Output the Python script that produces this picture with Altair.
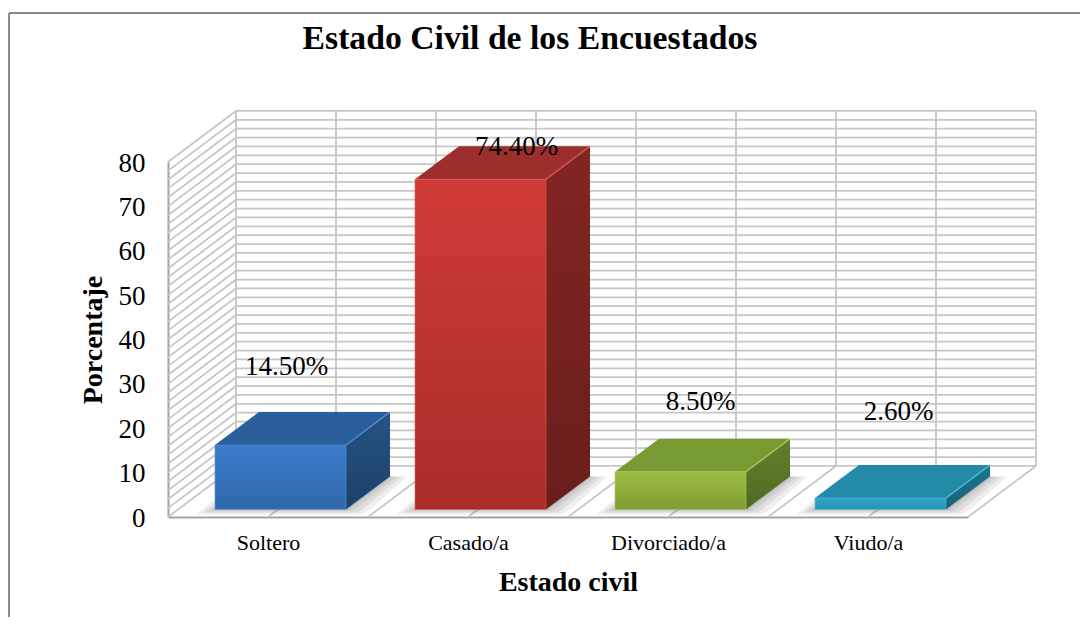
import altair as alt
import pandas as pd

categories = ["Soltero", "Casado/a", "Divorciado/a", "Viudo/a"]
values = [14.5, 74.4, 8.5, 2.6]
labels = ["14.50%", "74.40%", "8.50%", "2.60%"]
label_dx = [6, 36, 20, 18]
label_dy = [-78, -32, -70, -86]
front_top = ["#3c7dcb", "#d03b37", "#9cbd40", "#31a8cc"]
front_bottom = ["#2e68ab", "#a92d2a", "#7f9d33", "#2691b2"]
top_colors = ["#2b5f9b", "#9c2e2b", "#789a32", "#238aa8"]
side_top = ["#255485", "#822624", "#637f2a", "#1c7690"]
side_bottom = ["#1d4169", "#6a1e1c", "#506b21", "#186278"]
edge_colors = ["#5b93d6", "#dd5b56", "#b0cc60", "#55bedb"]

SERIF = "Liberation Serif"
GRID = "#c6c6c6"
AXIS = "#a3a3a3"
FRAME = "#8a8a8a"

WALL_DX, WALL_DY = 0.34, 11.5      # depth of the floor
BAR_DX, BAR_DY = 0.22, 7.44        # depth of a bar
BAR_LEFT, BAR_WIDTH = 0.235, 0.655
BASE = 1.7

xs = alt.Scale(domain=[0, 4], nice=False, zero=False)
ys = alt.Scale(domain=[0, 80], nice=False, zero=False)

label_expr = "[" + ",".join(f"'{c}'" for c in categories) + "][datum.value - 0.5]"
x_axis = alt.Axis(
    values=[0.5, 1.5, 2.5, 3.5], labelExpr=label_expr, title="Estado civil",
    grid=False, ticks=False, domainColor=AXIS, domainWidth=2,
    labelFont=SERIF, labelFontSize=22, labelColor="#000", labelPadding=15,
    titleFont=SERIF, titleFontSize=28, titleFontWeight="bold", titleColor="#000", titlePadding=15,
)
y_axis = alt.Axis(
    values=list(range(0, 81, 10)), title="Porcentaje",
    grid=False, ticks=False, domainColor=AXIS, domainWidth=2,
    labelFont=SERIF, labelFontSize=27, labelColor="#000", labelPadding=23, labelOffset=1,
    titleFont=SERIF, titleFontSize=28, titleFontWeight="bold", titleColor="#000", titlePadding=11,
)


def X(field="x"):
    return alt.X(f"{field}:Q", scale=xs, axis=x_axis)


def Y(field="y"):
    return alt.Y(f"{field}:Q", scale=ys, axis=y_axis)


def rules(rows, color=GRID, width=1.8):
    return alt.Chart(pd.DataFrame(rows)).mark_rule(color=color, strokeWidth=width).encode(
        x=X(), x2="x2:Q", y=Y(), y2="y2:Q"
    )


def parallelogram(x0, x1, y0, dx, dy, **mark):
    rows = [
        {"x": x0, "x2": x1, "y": y0},
        {"x": x0 + dx, "x2": x1 + dx, "y": y0 + dy},
    ]
    return alt.Chart(pd.DataFrame(rows)).mark_area(orient="horizontal", **mark).encode(
        x=X(), x2="x2:Q", y=Y()
    )


def vgrad(a, b):
    return alt.Gradient(
        gradient="linear",
        stops=[alt.GradientStop(color=a, offset=0), alt.GradientStop(color=b, offset=1)],
        x1=0, x2=0, y1=0, y2=1,
    )


levels = list(range(0, 81, 2))
layers = [
    # frame
    rules([{"x": -0.795, "x2": 4.7, "y": 113.6, "y2": 113.6},
           {"x": -0.795, "x2": -0.795, "y": 113.6, "y2": -25}], FRAME, 2),
    # back wall and side wall
    rules([{"x": WALL_DX, "x2": 4 + WALL_DX, "y": v + WALL_DY, "y2": v + WALL_DY} for v in levels]),
    rules([{"x": 0, "x2": WALL_DX, "y": v, "y2": v + WALL_DY} for v in levels]),
    rules([{"x": WALL_DX + k * 0.5, "x2": WALL_DX + k * 0.5, "y": WALL_DY, "y2": 80 + WALL_DY} for k in range(9)]),
    # floor
    rules([{"x": k * 0.5, "x2": k * 0.5 + WALL_DX, "y": 0, "y2": WALL_DY} for k in range(1, 9)]),
]

for i, v in enumerate(values):
    x0 = i + BAR_LEFT
    x1 = x0 + BAR_WIDTH
    top = BASE + v

    # soft floor shadow
    for grow in (0.09, 0.06, 0.035, 0.015):
        layers.append(parallelogram(x0 - grow, x1 + grow, BASE - grow * 12, BAR_DX, BAR_DY + grow * 12,
                                    color="#555555", opacity=0.1))
    # top face
    layers.append(parallelogram(x0, x1, top, BAR_DX, BAR_DY, color=top_colors[i]))
    # side face
    side = pd.DataFrame([
        {"x": x1, "y": BASE, "y2": top},
        {"x": x1 + BAR_DX, "y": BASE + BAR_DY, "y2": top + BAR_DY},
    ])
    layers.append(alt.Chart(side).mark_area(fill=vgrad(side_top[i], side_bottom[i])).encode(
        x=X(), y=Y(), y2="y2:Q"
    ))
    # front face
    front = pd.DataFrame([{"x": x0, "x2": x1, "y": BASE, "y2": top}])
    layers.append(alt.Chart(front).mark_rect(
        fill=vgrad(front_top[i], front_bottom[i]), stroke=edge_colors[i], strokeWidth=1, strokeOpacity=0.6
    ).encode(x=X(), x2="x2:Q", y=Y(), y2="y2:Q"))
    # bright edge between the faces
    layers.append(rules([{"x": x1, "x2": x1 + BAR_DX, "y": top, "y2": top + BAR_DY}], edge_colors[i], 1.2))

for i, v in enumerate(values):
    # value label
    label = pd.DataFrame([{"x": i + BAR_LEFT + BAR_WIDTH / 2, "y": BASE + v, "t": labels[i]}])
    layers.append(alt.Chart(label).mark_text(
        font=SERIF, fontSize=27, color="#000", dx=label_dx[i], dy=label_dy[i]
    ).encode(x=X(), y=Y(), text="t:N"))

chart = alt.layer(*layers).properties(
    width=800,
    height=355,
    padding={"left": 160, "top": 154, "right": 112, "bottom": 100},
    autosize=alt.AutoSizeParams(type="none"),
    background="white",
    title=alt.TitleParams(
        "Estado Civil de los Encuestados", font=SERIF, fontSize=33.7, fontWeight="bold",
        color="#000", anchor="middle", dx=-38, offset=-44,
    ),
).configure_view(stroke=None)

chart.save("out.html", embed_options={"renderer": "svg", "actions": False})
